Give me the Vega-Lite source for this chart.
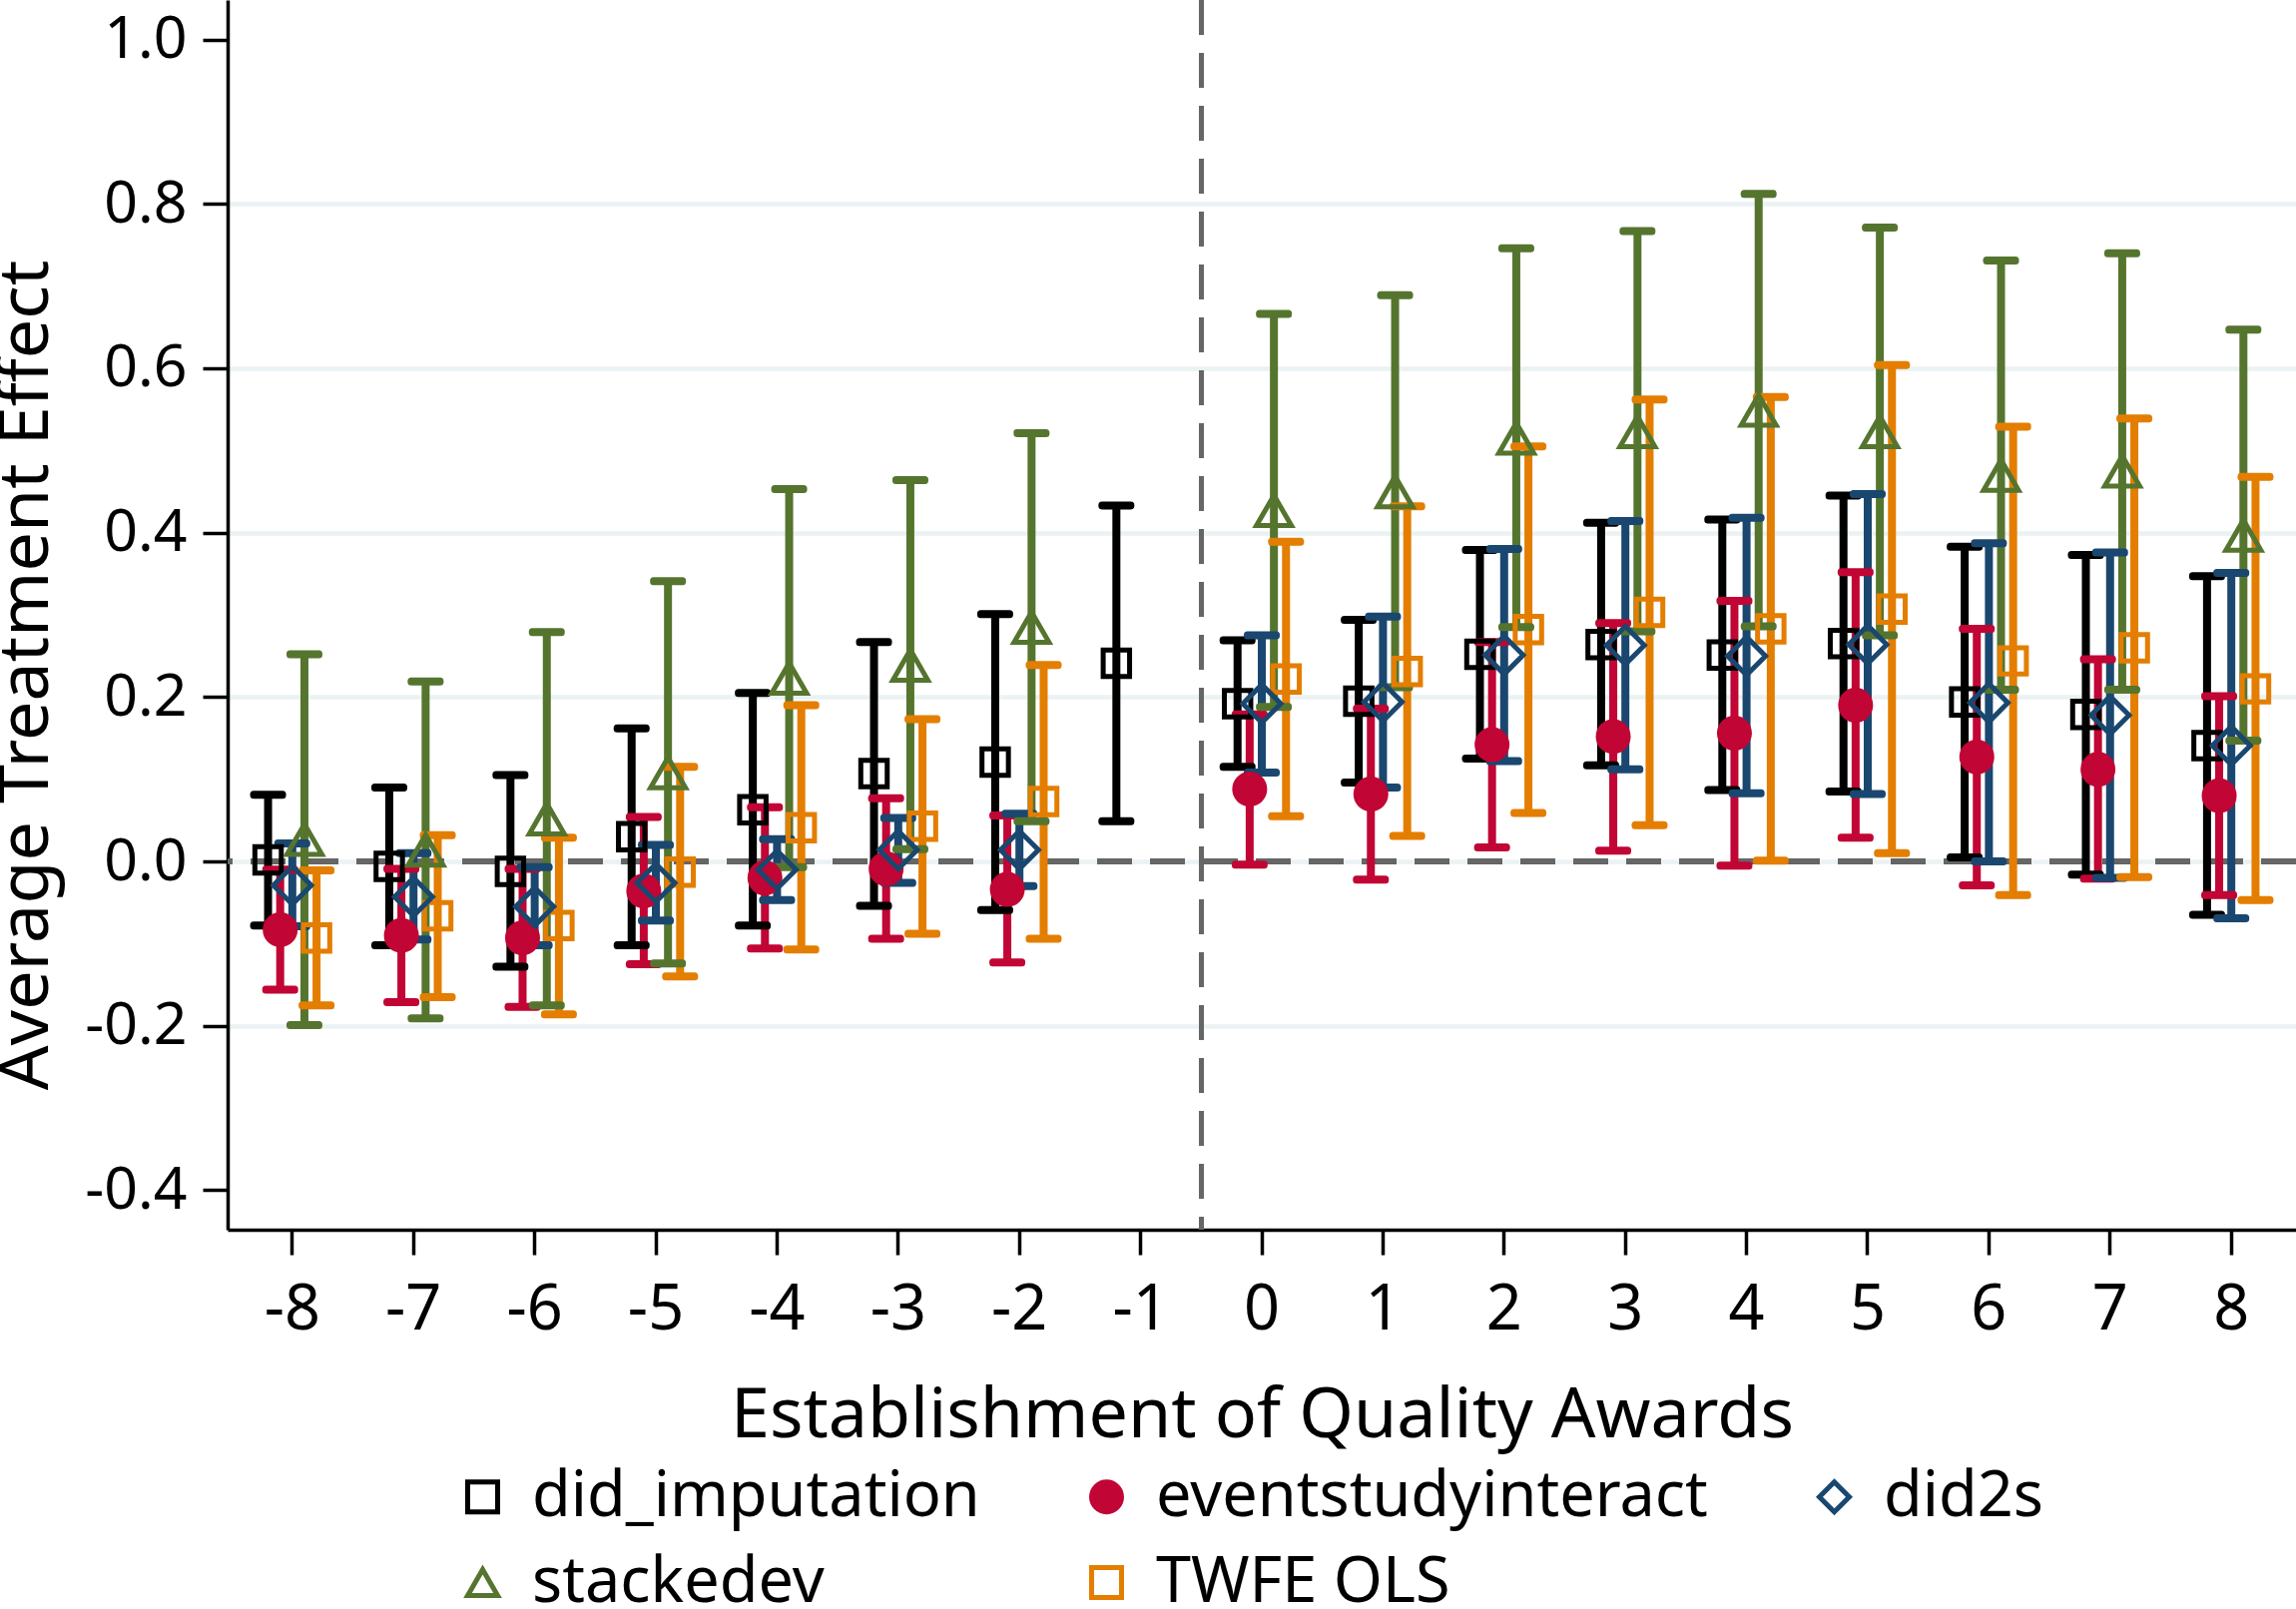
{
  "$schema": "https://vega.github.io/schema/vega-lite/v6.json",
  "width": 2072,
  "height": 1232,
  "autosize": {"type": "none"},
  "padding": {"left": 228, "top": 0, "right": 0, "bottom": 380},
  "background": "white",
  "config": {
    "view": {"stroke": null},
    "font": "Noto Sans",
    "axis": {"labelFont": "Noto Sans", "titleFont": "Noto Sans", "labelColor": "black", "titleColor": "black", "titleFontWeight": "normal"},
    "legend": {"labelFontSize": 63, "labelFont": "Noto Sans", "labelColor": "black", "labelLimit": 1000, "padding": 0, "symbolStrokeWidth": 5, "symbolSize": 900}
  },
  "datasets": {
    "est": [
      {"period": -8, "series": "did_imputation", "est": 0.002, "lo": -0.078, "hi": 0.081},
      {"period": -7, "series": "did_imputation", "est": -0.006, "lo": -0.102, "hi": 0.090},
      {"period": -6, "series": "did_imputation", "est": -0.012, "lo": -0.128, "hi": 0.105},
      {"period": -5, "series": "did_imputation", "est": 0.030, "lo": -0.102, "hi": 0.162},
      {"period": -4, "series": "did_imputation", "est": 0.063, "lo": -0.078, "hi": 0.205},
      {"period": -3, "series": "did_imputation", "est": 0.107, "lo": -0.054, "hi": 0.267},
      {"period": -2, "series": "did_imputation", "est": 0.121, "lo": -0.059, "hi": 0.301},
      {"period": -1, "series": "did_imputation", "est": 0.241, "lo": 0.049, "hi": 0.433},
      {"period": 0, "series": "did_imputation", "est": 0.192, "lo": 0.115, "hi": 0.269},
      {"period": 1, "series": "did_imputation", "est": 0.195, "lo": 0.096, "hi": 0.294},
      {"period": 2, "series": "did_imputation", "est": 0.252, "lo": 0.125, "hi": 0.379},
      {"period": 3, "series": "did_imputation", "est": 0.264, "lo": 0.117, "hi": 0.412},
      {"period": 4, "series": "did_imputation", "est": 0.251, "lo": 0.087, "hi": 0.416},
      {"period": 5, "series": "did_imputation", "est": 0.265, "lo": 0.085, "hi": 0.445},
      {"period": 6, "series": "did_imputation", "est": 0.194, "lo": 0.005, "hi": 0.383},
      {"period": 7, "series": "did_imputation", "est": 0.179, "lo": -0.016, "hi": 0.373},
      {"period": 8, "series": "did_imputation", "est": 0.141, "lo": -0.065, "hi": 0.347},

      {"period": -8, "series": "eventstudyinteract", "est": -0.083, "lo": -0.156, "hi": -0.010},
      {"period": -7, "series": "eventstudyinteract", "est": -0.090, "lo": -0.171, "hi": -0.009},
      {"period": -6, "series": "eventstudyinteract", "est": -0.093, "lo": -0.177, "hi": -0.009},
      {"period": -5, "series": "eventstudyinteract", "est": -0.036, "lo": -0.125, "hi": 0.054},
      {"period": -4, "series": "eventstudyinteract", "est": -0.020, "lo": -0.106, "hi": 0.066},
      {"period": -3, "series": "eventstudyinteract", "est": -0.009, "lo": -0.094, "hi": 0.077},
      {"period": -2, "series": "eventstudyinteract", "est": -0.034, "lo": -0.123, "hi": 0.056},
      {"period": 0, "series": "eventstudyinteract", "est": 0.088, "lo": -0.004, "hi": 0.179},
      {"period": 1, "series": "eventstudyinteract", "est": 0.082, "lo": -0.022, "hi": 0.186},
      {"period": 2, "series": "eventstudyinteract", "est": 0.142, "lo": 0.017, "hi": 0.267},
      {"period": 3, "series": "eventstudyinteract", "est": 0.152, "lo": 0.013, "hi": 0.290},
      {"period": 4, "series": "eventstudyinteract", "est": 0.156, "lo": -0.005, "hi": 0.317},
      {"period": 5, "series": "eventstudyinteract", "est": 0.190, "lo": 0.029, "hi": 0.352},
      {"period": 6, "series": "eventstudyinteract", "est": 0.127, "lo": -0.029, "hi": 0.283},
      {"period": 7, "series": "eventstudyinteract", "est": 0.112, "lo": -0.021, "hi": 0.246},
      {"period": 8, "series": "eventstudyinteract", "est": 0.080, "lo": -0.041, "hi": 0.201},

      {"period": -8, "series": "did2s", "est": -0.029, "lo": -0.079, "hi": 0.022},
      {"period": -7, "series": "did2s", "est": -0.043, "lo": -0.095, "hi": 0.010},
      {"period": -6, "series": "did2s", "est": -0.055, "lo": -0.102, "hi": -0.007},
      {"period": -5, "series": "did2s", "est": -0.026, "lo": -0.072, "hi": 0.020},
      {"period": -4, "series": "did2s", "est": -0.010, "lo": -0.047, "hi": 0.027},
      {"period": -3, "series": "did2s", "est": 0.014, "lo": -0.026, "hi": 0.053},
      {"period": -2, "series": "did2s", "est": 0.014, "lo": -0.030, "hi": 0.058},
      {"period": 0, "series": "did2s", "est": 0.192, "lo": 0.108, "hi": 0.275},
      {"period": 1, "series": "did2s", "est": 0.194, "lo": 0.090, "hi": 0.298},
      {"period": 2, "series": "did2s", "est": 0.251, "lo": 0.122, "hi": 0.380},
      {"period": 3, "series": "did2s", "est": 0.263, "lo": 0.112, "hi": 0.414},
      {"period": 4, "series": "did2s", "est": 0.250, "lo": 0.083, "hi": 0.418},
      {"period": 5, "series": "did2s", "est": 0.264, "lo": 0.082, "hi": 0.447},
      {"period": 6, "series": "did2s", "est": 0.193, "lo": 0.000, "hi": 0.387},
      {"period": 7, "series": "did2s", "est": 0.178, "lo": -0.020, "hi": 0.376},
      {"period": 8, "series": "did2s", "est": 0.141, "lo": -0.069, "hi": 0.351},

      {"period": -8, "series": "stackedev", "est": 0.027, "lo": -0.199, "hi": 0.252},
      {"period": -7, "series": "stackedev", "est": 0.014, "lo": -0.191, "hi": 0.219},
      {"period": -6, "series": "stackedev", "est": 0.052, "lo": -0.175, "hi": 0.279},
      {"period": -5, "series": "stackedev", "est": 0.108, "lo": -0.124, "hi": 0.341},
      {"period": -4, "series": "stackedev", "est": 0.223, "lo": -0.007, "hi": 0.453},
      {"period": -3, "series": "stackedev", "est": 0.239, "lo": 0.015, "hi": 0.464},
      {"period": -2, "series": "stackedev", "est": 0.285, "lo": 0.049, "hi": 0.521},
      {"period": 0, "series": "stackedev", "est": 0.427, "lo": 0.188, "hi": 0.666},
      {"period": 1, "series": "stackedev", "est": 0.450, "lo": 0.212, "hi": 0.689},
      {"period": 2, "series": "stackedev", "est": 0.515, "lo": 0.285, "hi": 0.746},
      {"period": 3, "series": "stackedev", "est": 0.523, "lo": 0.280, "hi": 0.767},
      {"period": 4, "series": "stackedev", "est": 0.549, "lo": 0.286, "hi": 0.812},
      {"period": 5, "series": "stackedev", "est": 0.523, "lo": 0.275, "hi": 0.771},
      {"period": 6, "series": "stackedev", "est": 0.470, "lo": 0.209, "hi": 0.731},
      {"period": 7, "series": "stackedev", "est": 0.475, "lo": 0.209, "hi": 0.740},
      {"period": 8, "series": "stackedev", "est": 0.397, "lo": 0.147, "hi": 0.647},

      {"period": -8, "series": "TWFE OLS", "est": -0.093, "lo": -0.175, "hi": -0.011},
      {"period": -7, "series": "TWFE OLS", "est": -0.066, "lo": -0.165, "hi": 0.032},
      {"period": -6, "series": "TWFE OLS", "est": -0.078, "lo": -0.186, "hi": 0.029},
      {"period": -5, "series": "TWFE OLS", "est": -0.013, "lo": -0.140, "hi": 0.115},
      {"period": -4, "series": "TWFE OLS", "est": 0.041, "lo": -0.107, "hi": 0.190},
      {"period": -3, "series": "TWFE OLS", "est": 0.043, "lo": -0.088, "hi": 0.173},
      {"period": -2, "series": "TWFE OLS", "est": 0.073, "lo": -0.094, "hi": 0.239},
      {"period": 0, "series": "TWFE OLS", "est": 0.222, "lo": 0.055, "hi": 0.389},
      {"period": 1, "series": "TWFE OLS", "est": 0.231, "lo": 0.031, "hi": 0.432},
      {"period": 2, "series": "TWFE OLS", "est": 0.282, "lo": 0.059, "hi": 0.505},
      {"period": 3, "series": "TWFE OLS", "est": 0.303, "lo": 0.044, "hi": 0.562},
      {"period": 4, "series": "TWFE OLS", "est": 0.283, "lo": 0.001, "hi": 0.565},
      {"period": 5, "series": "TWFE OLS", "est": 0.307, "lo": 0.010, "hi": 0.604},
      {"period": 6, "series": "TWFE OLS", "est": 0.244, "lo": -0.041, "hi": 0.529},
      {"period": 7, "series": "TWFE OLS", "est": 0.260, "lo": -0.019, "hi": 0.539},
      {"period": 8, "series": "TWFE OLS", "est": 0.210, "lo": -0.047, "hi": 0.468}
    ]
  },
  "data": {"name": "est"},
  "layer": [
    {
      "mark": {"type": "rule", "color": "#666666", "strokeWidth": 4.5, "strokeDash": [35, 18]},
      "encoding": {"y": {"datum": 0, "type": "quantitative"}}
    },
    {
      "mark": {"type": "rule", "color": "#666666", "strokeWidth": 4.5, "strokeDash": [35, 18]},
      "encoding": {"x": {"datum": -1, "type": "ordinal", "bandPosition": 1}}
    },
    {
      "mark": {"type": "rule", "strokeWidth": 8},
      "encoding": {
        "x": {
          "field": "period", "type": "ordinal",
          "scale": {"domain": [-8, -7, -6, -5, -4, -3, -2, -1, 0, 1, 2, 3, 4, 5, 6, 7, 8], "paddingInner": 0, "paddingOuter": 0.034},
          "axis": {
            "labelExpr": "'' + datum.value",
            "labelAngle": 0, "labelAlign": "center", "labelBaseline": "top",
            "grid": false, "domainColor": "black", "domainWidth": 3.5,
            "tickColor": "black", "tickWidth": 3.5, "tickSize": 25, "bandPosition": 0.5,
            "labelFontSize": 63, "labelPadding": 24,
            "titleFontSize": 70, "titlePadding": 40
          },
          "title": "Establishment of Quality Awards"
        },
        "xOffset": {"field": "series", "type": "nominal", "scale": {"type": "band", "domain": ["did_imputation", "eventstudyinteract", "did2s", "stackedev", "TWFE OLS"], "range": [30.35, 91.05], "paddingInner": 0, "paddingOuter": 0}},
        "y": {
          "field": "lo", "type": "quantitative",
          "scale": {"domain": [-0.448, 1.048], "nice": false, "zero": false},
          "axis": {
            "values": [-0.4, -0.2, 0, 0.2, 0.4, 0.6, 0.8, 1.0],
            "labelExpr": "replace(format(datum.value, '.1f'), '\u2212', '-')",
            "grid": true, "gridWidth": 4.5,
            "gridColor": {"condition": {"test": "abs(datum.value - 1) < 0.01 || abs(datum.value + 0.4) < 0.01", "value": "transparent"}, "value": "#eaf2f3"},
            "domainColor": "black", "domainWidth": 3.5,
            "tickColor": "black", "tickWidth": 3.5, "tickSize": 25,
            "labelFontSize": 59, "labelPadding": 16,
            "titleFontSize": 70, "titleY": 676, "titlePadding": 22
          },
          "title": "Average Treatment Effect"
        },
        "y2": {"field": "hi"},
        "color": {
          "field": "series", "type": "nominal",
          "scale": {"domain": ["did_imputation", "eventstudyinteract", "did2s", "stackedev", "TWFE OLS"], "range": ["#000000", "#c10534", "#1a476f", "#55752f", "#e37e00"]},
          "legend": {"orient": "none", "legendX": 224, "legendY": 1468, "direction": "horizontal", "columns": 3, "columnPadding": 95, "rowPadding": 22, "labelOffset": 18, "title": null}
        }
      }
    },
    {
      "mark": {"type": "tick", "orient": "horizontal", "filled": false, "size": 29, "thickness": 1, "strokeWidth": 7, "strokeJoin": "round", "opacity": 1},
      "encoding": {
        "x": {"field": "period", "type": "ordinal"},
        "xOffset": {"field": "series", "type": "nominal"},
        "y": {"field": "hi", "type": "quantitative"},
        "color": {"field": "series", "type": "nominal"}
      }
    },
    {
      "mark": {"type": "tick", "orient": "horizontal", "filled": false, "size": 29, "thickness": 1, "strokeWidth": 7, "strokeJoin": "round", "opacity": 1},
      "encoding": {
        "x": {"field": "period", "type": "ordinal"},
        "xOffset": {"field": "series", "type": "nominal"},
        "y": {"field": "lo", "type": "quantitative"},
        "color": {"field": "series", "type": "nominal"}
      }
    },
    {
      "transform": [{"filter": {"field": "series", "oneOf": ["did_imputation", "TWFE OLS"]}}],
      "mark": {"type": "point", "strokeWidth": 5, "opacity": 1, "size": 700, "filled": false},
      "encoding": {
        "x": {"field": "period", "type": "ordinal"},
        "xOffset": {"field": "series", "type": "nominal"},
        "y": {"field": "est", "type": "quantitative"},
        "color": {"field": "series", "type": "nominal"},
        "shape": {
          "field": "series", "type": "nominal",
          "scale": {"domain": ["did_imputation", "eventstudyinteract", "did2s", "stackedev", "TWFE OLS"], "range": ["square", "circle", "diamond", "triangle-up", "square"]}
        },
        "fill": {
          "field": "series", "type": "nominal",
          "scale": {"domain": ["did_imputation", "eventstudyinteract", "did2s", "stackedev", "TWFE OLS"], "range": ["transparent", "#c10534", "transparent", "transparent", "transparent"]}
        }
      }
    },
    {
      "transform": [{"filter": {"field": "series", "equal": "eventstudyinteract"}}],
      "mark": {"type": "point", "strokeWidth": 5, "opacity": 1, "size": 900, "filled": false},
      "encoding": {
        "x": {"field": "period", "type": "ordinal"},
        "xOffset": {"field": "series", "type": "nominal"},
        "y": {"field": "est", "type": "quantitative"},
        "color": {"field": "series", "type": "nominal"},
        "shape": {"field": "series", "type": "nominal"},
        "fill": {"field": "series", "type": "nominal"}
      }
    },
    {
      "transform": [{"filter": {"field": "series", "equal": "did2s"}}],
      "mark": {"type": "point", "strokeWidth": 5, "opacity": 1, "size": 1450, "filled": false},
      "encoding": {
        "x": {"field": "period", "type": "ordinal"},
        "xOffset": {"field": "series", "type": "nominal"},
        "y": {"field": "est", "type": "quantitative"},
        "color": {"field": "series", "type": "nominal"},
        "shape": {"field": "series", "type": "nominal"},
        "fill": {"field": "series", "type": "nominal"}
      }
    },
    {
      "transform": [{"filter": {"field": "series", "equal": "stackedev"}}],
      "mark": {"type": "point", "strokeWidth": 5, "opacity": 1, "size": 1225, "filled": false},
      "encoding": {
        "x": {"field": "period", "type": "ordinal"},
        "xOffset": {"field": "series", "type": "nominal"},
        "y": {"field": "est", "type": "quantitative"},
        "color": {"field": "series", "type": "nominal"},
        "shape": {"field": "series", "type": "nominal"},
        "fill": {"field": "series", "type": "nominal"}
      }
    }
  ]
}
